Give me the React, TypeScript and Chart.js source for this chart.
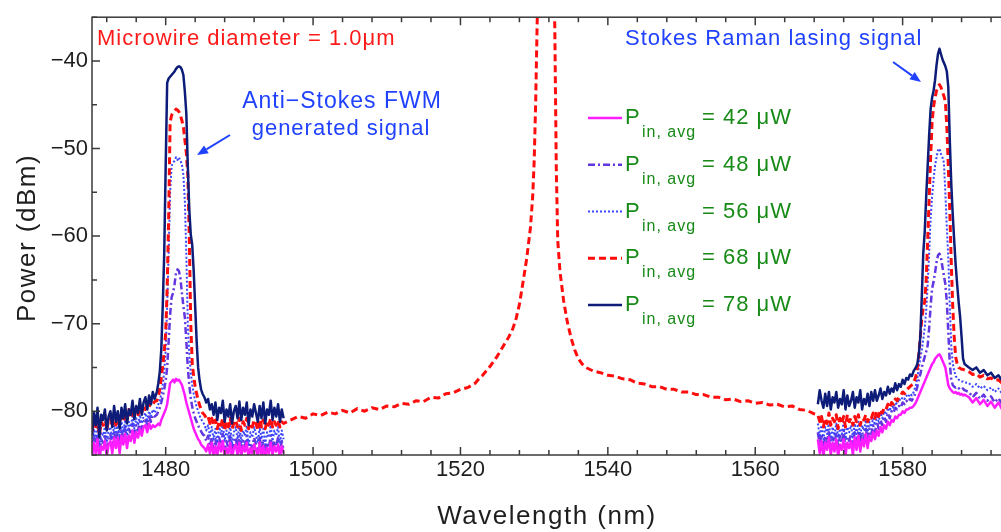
import React, { useEffect, useRef } from "react";
import { Chart, registerables } from "chart.js";

Chart.register(...registerables);

const FONT = '"Liberation Sans", Arial, Helvetica, sans-serif';

// ---------- wavelength grids (nm) ----------
const leftWl = [
  1470, 1470.25, 1470.5, 1470.75, 1471, 1471.25, 1471.5, 1471.75, 1472, 1472.25, 1472.5, 1472.75,
  1473, 1473.25, 1473.5, 1473.75, 1474, 1474.25, 1474.5, 1474.75, 1475, 1475.25, 1475.5, 1475.75,
  1476, 1476.25, 1476.5, 1476.75, 1477, 1477.25, 1477.5, 1477.75, 1478, 1478.25, 1478.5,
  1478.8, 1479, 1479.2, 1479.4, 1479.6, 1479.8, 1480, 1480.2, 1480.4, 1480.6, 1480.8, 1481, 1481.2, 1481.4, 1481.6, 1481.8,
  1482, 1482.2, 1482.4, 1482.6, 1482.8, 1483, 1483.2, 1483.4, 1483.6, 1483.8, 1484, 1484.2, 1484.4, 1484.6, 1484.8, 1485,
  1485.25, 1485.5, 1485.75, 1486, 1486.25, 1486.5, 1486.75, 1487, 1487.25, 1487.5, 1487.75, 1488,
  1488.25, 1488.5, 1488.75, 1489, 1489.25, 1489.5, 1489.75, 1490, 1490.25, 1490.5, 1490.75, 1491,
  1491.25, 1491.5, 1491.75, 1492, 1492.25, 1492.5, 1492.75, 1493, 1493.25, 1493.5, 1493.75, 1494,
  1494.25, 1494.5, 1494.75, 1495, 1495.25, 1495.5, 1495.75, 1496,
];

const midWl = [
  1497, 1498, 1499, 1500, 1501, 1502, 1503, 1504, 1505, 1506,
  1507, 1508, 1509, 1510, 1511, 1512, 1513, 1514, 1515, 1516,
  1517, 1518, 1519, 1520, 1521, 1522, 1522.5, 1523, 1523.5, 1524,
  1524.5, 1525, 1525.5, 1526, 1526.5, 1527, 1527.5, 1528, 1528.5, 1529,
  1529.5, 1529.8, 1530, 1530.2, 1530.4, 1530.6, 1531, 1531.6, 1532.2, 1532.6,
  1532.8, 1533, 1533.2, 1533.5, 1534, 1534.5, 1535, 1535.5, 1536, 1536.5,
  1537, 1538, 1539, 1540, 1541, 1542, 1543, 1544, 1545, 1546,
  1547, 1548, 1549, 1550, 1551, 1552, 1553, 1554, 1555, 1556,
  1557, 1558, 1559, 1560, 1561, 1562, 1563, 1564, 1565, 1566,
  1567, 1568,
];

const rightWl = [
  1568.5, 1568.75, 1569, 1569.25, 1569.5, 1569.75, 1570, 1570.25, 1570.5, 1570.75,
  1571, 1571.25, 1571.5, 1571.75, 1572, 1572.25, 1572.5, 1572.75, 1573, 1573.25,
  1573.5, 1573.75, 1574, 1574.25, 1574.5, 1574.75, 1575, 1575.25, 1575.5, 1575.75,
  1576, 1576.25, 1576.5, 1576.75, 1577, 1577.25, 1577.5, 1577.75, 1578, 1578.25,
  1578.5, 1578.75, 1579, 1579.25, 1579.5, 1579.75, 1580, 1580.25, 1580.5, 1580.75,
  1581, 1581.25, 1581.5,
  1581.8, 1582, 1582.2, 1582.4, 1582.6, 1582.8, 1583, 1583.2, 1583.4, 1583.6, 1583.8, 1584, 1584.2, 1584.4, 1584.6,
  1584.8, 1585, 1585.2, 1585.4, 1585.6, 1585.8, 1586, 1586.2, 1586.4, 1586.6, 1586.8, 1587, 1587.2, 1587.4, 1587.6,
  1587.8, 1588, 1588.2, 1588.4,
  1589, 1589.5, 1590, 1590.5, 1591, 1591.5, 1592, 1592.5, 1593, 1593.5, 1594, 1594.5, 1595, 1595.5, 1596, 1596.5,
  1597, 1597.5, 1598, 1598.5, 1599, 1599.5, 1600,
];

// ---------- power spectra (dBm) ----------
const p78Left = [
  -82.8, -80.2, -81.6, -79.6, -83.0, -80.4, -81.0, -79.8, -82.2, -80.6, -80.0, -81.8, -79.4, -81.2, -80.0, -82.0, -79.6, -80.8,
  -79.2, -81.4, -79.8, -80.4, -78.8, -80.9, -79.4, -80.2, -78.6, -80.4, -79.0, -78.4, -79.8, -78.2, -79.2, -77.8, -78.6,
  -77.8, -76.8, -75.5, -73, -68, -62, -52, -42.5, -42, -41.8, -41.6, -41.4, -41.2, -40.9, -40.7, -40.6,
  -40.7, -41, -41.6, -43.5, -46, -52, -57, -59.8, -61, -64, -68, -72, -75, -76.5, -77.5, -78,
  -78.4, -79.0, -78.6, -79.8, -79.2, -80.4, -79.0, -81.0, -79.6, -80.2, -78.8, -81.2, -79.8, -80.6, -79.2, -81.4,
  -80.0, -79.4, -80.8, -78.9, -81.0, -79.6, -80.4, -79.0, -81.6, -79.8, -80.6, -79.2, -80.2, -81.2, -79.4, -80.8,
  -79.0, -81.4, -79.8, -80.4, -78.8, -81.0, -79.6, -80.6, -79.2, -81.2, -79.8, -80.8,
];
const p68Left = [
  -82.4, -81.0, -82.0, -80.6, -82.8, -81.2, -81.6, -80.4, -82.2, -81.0, -80.8, -81.8, -80.2, -81.6, -80.6, -81.4, -80.0, -81.2,
  -80.4, -81.0, -79.8, -80.8, -80.2, -80.6, -79.6, -80.4, -79.8, -80.2, -79.4, -79.8, -79.2, -79.6, -78.8, -79.2, -78.9,
  -78.8, -78.4, -77.5, -76.2, -74.8, -73.2, -71, -66, -58, -47, -46.2, -45.9, -45.7, -45.5, -45.6, -45.8,
  -46.2, -46.8, -47.5, -49, -50.5, -53, -60, -70, -74.5, -76, -77.2, -78, -78.7, -79.3, -79.8, -80.2,
  -80.4, -80.8, -80.6, -81.4, -80.8, -81.6, -81.0, -82.0, -81.2, -81.6, -80.8, -82.2, -81.2, -81.8, -80.8, -82.0,
  -81.4, -81.0, -81.8, -80.8, -82.2, -81.2, -81.6, -80.8, -82.0, -81.4, -81.8, -81.0, -81.4, -82.2, -80.9, -81.8,
  -81.0, -82.0, -81.2, -81.6, -80.8, -81.8, -81.2, -81.6, -81.0, -81.8, -81.2, -81.4,
];
const p56Left = [
  -83.6, -82.0, -83.0, -81.6, -84.2, -82.4, -82.8, -81.8, -83.6, -82.2, -81.8, -83.2, -81.6, -82.6, -81.4, -83.0, -81.2, -82.4,
  -81.0, -82.6, -81.2, -81.8, -80.6, -82.0, -80.8, -81.6, -80.4, -81.4, -80.6, -80.2, -81.0, -80.0, -80.6, -79.8, -80.2,
  -79.6, -79.2, -78.8, -78, -77, -75.5, -73, -68, -62, -55, -52, -51.6, -51.4, -51.0, -51.3, -51.0,
  -51.4, -51.8, -53, -56, -62, -70, -73.5, -75.5, -77, -78, -78.8, -79.5, -80.0, -80.5, -80.9, -81.2,
  -81.5, -82.2, -81.6, -82.8, -81.8, -83.2, -82.0, -83.6, -81.8, -82.6, -81.4, -83.4, -82.2, -83.0, -81.6, -83.8,
  -82.4, -81.8, -83.2, -81.6, -83.6, -82.2, -82.8, -81.6, -84.0, -82.4, -83.0, -81.8, -82.6, -83.6, -81.8, -83.2,
  -82.0, -83.8, -82.4, -83.0, -81.6, -83.4, -82.2, -82.8, -81.8, -83.6, -82.2, -83.2,
];
const p48Left = [
  -84.6, -82.8, -84.0, -82.6, -85.0, -83.2, -83.6, -82.6, -84.4, -83.0, -82.6, -84.2, -82.4, -83.6, -82.2, -84.0, -82.0, -83.2,
  -81.8, -83.4, -82.0, -82.6, -81.4, -82.8, -81.6, -82.2, -81.2, -82.0, -81.2, -80.8, -81.6, -80.6, -81.2, -80.4, -80.6,
  -80.4, -80.0, -79.6, -79.0, -78.3, -77.5, -76.5, -75, -72, -69, -67, -66.5, -65.5, -64.2, -63.8, -64.0,
  -64.8, -66.5, -68, -69.3, -72, -75, -77, -78.5, -79.5, -80.2, -80.8, -81.2, -81.6, -82.0, -82.3, -82.6,
  -82.8, -83.4, -82.8, -84.0, -83.0, -84.4, -83.2, -84.8, -83.0, -83.8, -82.6, -84.6, -83.4, -84.2, -82.8, -85.0,
  -83.6, -83.0, -84.4, -82.8, -84.8, -83.4, -84.0, -82.8, -85.0, -83.6, -84.2, -83.0, -83.8, -84.8, -83.0, -84.4,
  -83.2, -85.0, -83.6, -84.2, -82.8, -84.6, -83.4, -84.0, -83.0, -84.8, -83.4, -84.4,
];
const p42Left = [
  -85.4, -83.6, -84.8, -83.2, -85.6, -84.0, -84.4, -83.4, -85.2, -83.8, -83.4, -84.8, -83.0, -84.2, -83.0, -84.8, -82.8, -83.8,
  -82.6, -84.2, -82.8, -83.4, -82.2, -83.6, -82.4, -83.0, -82.0, -82.8, -81.8, -81.6, -82.4, -81.4, -82.0, -81.6, -81.8,
  -81.6, -81.4, -81.6, -81.0, -80.6, -80.2, -79.8, -79.2, -78, -76.8, -76.6, -76.4, -76.7, -76.3, -76.5, -76.4,
  -76.7, -77.0, -77.6, -78.2, -79.0, -79.6, -80.2, -80.8, -81.4, -82.0, -82.4, -82.8, -83.2, -83.4, -83.8, -84.0,
  -84.2, -84.6, -83.8, -84.8, -83.6, -85.2, -84.0, -85.0, -83.6, -84.6, -83.4, -85.2, -84.2, -84.8, -83.6, -85.4,
  -84.2, -83.8, -85.0, -83.6, -85.2, -84.0, -84.6, -83.6, -85.4, -84.2, -84.8, -83.8, -84.4, -85.2, -83.6, -85.0,
  -84.0, -85.4, -84.2, -84.8, -83.6, -85.0, -84.0, -84.6, -83.8, -85.2, -84.0, -84.8,
];

const p68Mid = [
  -81.0, -80.6, -80.8, -80.3, -80.5, -80.1, -80.3, -79.9, -80.2, -79.7,
  -80.0, -79.6, -79.8, -79.4, -79.5, -79.1, -79.2, -78.8, -78.9, -78.4,
  -78.5, -78.0, -77.9, -77.5, -77.3, -76.8, -76.3, -75.9, -75.4, -74.9,
  -74.3, -73.7, -73.0, -72.3, -71.6, -70.8, -69.6, -67.8, -65.2, -62.5,
  -59.0, -55.5, -51.5, -45, -36, -28, -22, -20, -23, -30,
  -36, -52, -60.5, -64, -67.4, -69.8, -71.6, -73.0, -74.0, -74.6,
  -75.0, -75.4, -75.6, -75.9, -76.0, -76.3, -76.4, -76.8, -76.9, -77.2,
  -77.2, -77.5, -77.5, -77.8, -77.8, -78.1, -78.1, -78.4, -78.4, -78.7,
  -78.6, -78.9, -78.8, -79.1, -79.0, -79.3, -79.2, -79.5, -79.4, -79.8,
  -79.9, -80.3,
];

const p78Right = [
  -79.2, -77.6, -78.8, -79.6, -78.0, -79.4, -77.8, -79.8, -78.4, -79.0,
  -77.8, -79.6, -78.6, -79.2, -77.6, -79.8, -78.2, -79.4, -78.8, -77.8,
  -79.6, -78.4, -79.0, -77.6, -79.8, -78.6, -79.2, -78.0, -79.4, -77.8,
  -78.8, -77.6, -78.8, -78.2, -77.4, -78.6, -77.8, -78.2, -77.2, -78.0,
  -77.4, -77.8, -76.8, -77.6, -76.9, -77.2, -76.4, -76.9, -76.2, -76.4,
  -75.8, -76.0, -75.4,
  -75.0, -74.6, -73.5, -71.5, -67, -62, -59.5, -55.5, -52, -48.5, -45.5, -44.2, -43.4, -42.2, -40.5,
  -39.2, -38.6, -39.2, -39.8, -40.2, -40.6, -41.2, -43, -49, -54, -57.5, -60.5, -63.3, -65.5, -67.5,
  -69.2, -71.5, -74.0, -74.6,
  -75.0, -75.3, -75.0, -75.6, -75.3, -75.9, -75.6, -76.2, -75.9, -76.5, -76.2, -76.8, -76.4, -77.0, -76.7, -77.2,
  -76.9, -77.5, -77.1, -77.6, -77.3, -77.8, -77.5,
];
const p68Right = [
  -80.4, -81.2, -80.6, -81.8, -80.8, -81.4, -80.2, -81.6, -80.8, -81.2,
  -80.4, -82.0, -80.8, -81.4, -80.6, -81.8, -80.4, -81.2, -80.8, -81.6,
  -80.6, -81.2, -80.4, -81.6, -80.8, -81.0, -80.4, -81.2, -80.6, -80.8,
  -80.2, -80.8, -80.0, -80.6, -79.8, -80.2, -79.6, -79.8, -79.2, -79.6,
  -79.0, -79.2, -78.6, -78.8, -78.4, -78.2, -77.8, -78.0, -77.6, -77.4,
  -77.2, -77.0, -76.8,
  -76, -75, -73.5, -71.5, -69.5, -68.2, -67.5, -65, -60.5, -55.8, -51, -47, -45.2, -44.2, -43.4,
  -42.9, -42.7, -43.0, -43.5, -44.0, -44.6, -47.5, -52, -57, -63, -68, -71.5, -73.8, -74.6, -75.0,
  -75.1, -75.2, -75.2, -75.3,
  -75.5, -75.8, -75.7, -76.1, -75.9, -76.3, -76.2, -76.5, -76.4, -76.8, -76.7, -77.0, -76.9, -77.3, -77.2, -77.5,
  -77.4, -77.8, -77.7, -78.0, -77.9, -78.3, -78.2,
];
const p56Right = [
  -81.4, -82.8, -81.6, -83.2, -81.8, -82.6, -81.2, -83.4, -81.8, -82.8,
  -81.4, -83.0, -82.0, -82.6, -81.2, -83.2, -81.8, -82.4, -81.6, -83.0,
  -81.4, -82.6, -81.2, -82.8, -81.6, -82.2, -81.0, -82.4, -81.2, -81.8,
  -80.8, -81.6, -80.6, -81.2, -80.2, -80.8, -80.0, -80.4, -79.6, -80.0,
  -79.2, -79.6, -79.0, -79.2, -78.6, -78.8, -78.4, -78.6, -78.2, -78.4,
  -78.0, -78.2, -77.8,
  -77.0, -76.2, -75.0, -74.0, -73.0, -71.8, -70.5, -68.5, -65.5, -62, -58, -55.5, -53.5, -52.0, -51.0,
  -50.2, -50.0, -50.6, -51.0, -51.6, -55, -59, -62.5, -68, -72.5, -74.5, -75.4, -76.0, -76.2, -76.4,
  -76.5, -76.6, -76.6, -76.7,
  -76.8, -77.2, -76.9, -77.4, -77.1, -77.6, -77.3, -77.8, -77.4, -78.0, -77.6, -78.1, -77.8, -78.3, -77.9, -78.4,
  -78.1, -78.6, -78.2, -78.7, -78.4, -78.8, -78.6,
];
const p48Right = [
  -82.4, -83.8, -82.6, -84.4, -82.8, -83.6, -82.2, -84.6, -83.0, -83.8,
  -82.4, -84.2, -82.8, -83.6, -82.2, -84.4, -83.0, -83.4, -82.6, -84.0,
  -82.4, -83.6, -82.2, -83.8, -82.4, -83.2, -81.8, -83.4, -82.0, -82.6,
  -81.6, -82.4, -81.2, -82.0, -81.0, -81.6, -80.6, -81.2, -80.2, -80.8,
  -80.0, -80.2, -79.6, -79.8, -79.4, -79.6, -79.0, -79.2, -78.8, -79.0,
  -78.6, -78.8, -78.4,
  -77.8, -77.2, -76.4, -75.8, -75.0, -74.4, -73.8, -73.2, -72.5, -70.5, -68, -66, -65.2, -64.2, -63,
  -62.2, -62.0, -62.4, -63.5, -64.5, -65.5, -67.5, -71, -74.5, -76.4, -77.0, -77.2, -77.3, -77.2, -77.4,
  -77.3, -77.5, -77.4, -77.6,
  -77.8, -78.4, -77.9, -78.6, -78.1, -78.8, -78.3, -79.0, -78.5, -79.2, -78.6, -79.3, -78.8, -79.4, -78.9, -79.6,
  -79.1, -79.7, -79.2, -79.8, -79.4, -80.0, -79.6,
];
const p42Right = [
  -83.2, -84.8, -83.4, -85.2, -83.6, -84.4, -83.0, -85.0, -83.6, -84.6,
  -83.2, -85.2, -83.8, -84.4, -83.2, -85.0, -83.6, -84.2, -83.4, -85.0,
  -83.0, -84.4, -82.8, -84.6, -83.2, -84.0, -82.6, -84.2, -82.8, -83.4,
  -82.4, -83.2, -82.2, -82.8, -81.8, -82.4, -81.6, -82.0, -81.2, -81.6,
  -81.0, -81.2, -80.6, -80.8, -80.4, -80.4, -80.0, -80.2, -79.8, -79.8,
  -79.6, -79.6, -79.4,
  -79.0, -78.6, -78.2, -77.8, -77.4, -77.0, -76.6, -76.2, -75.8, -75.4, -75.0, -74.6, -74.4, -74.0, -73.8,
  -73.6, -73.5, -73.8, -74.2, -74.6, -75.0, -76.0, -77.0, -77.4, -77.6, -77.8, -77.9, -77.8, -78.0, -77.9,
  -78.1, -78.0, -78.2, -78.1,
  -78.4, -79.0, -78.5, -79.2, -78.7, -79.4, -78.9, -79.6, -79.0, -79.8, -79.2, -79.9, -79.4, -80.1, -79.5, -80.2,
  -79.7, -80.4, -79.8, -80.5, -80.0, -80.7, -80.2,
];

const powerLabels = ["42", "48", "56", "68", "78"];
const xTickValues = [1480, 1500, 1520, 1540, 1560, 1580];
const yTickValues = [-80, -70, -60, -50, -40];

// order: lower = drawn on top
const seriesStyle: Record<string, { color: string; width: number; dash: number[]; order: number }> = {
  "42": { color: "#ff1cff", width: 2.5, dash: [], order: 3 },
  "48": { color: "#6236e0", width: 2.5, dash: [7, 3, 2, 3], order: 5 },
  "56": { color: "#3a46ff", width: 2, dash: [2, 2], order: 4 },
  "68": { color: "#ff0d0d", width: 3, dash: [7, 4], order: 2 },
  "78": { color: "#0c1c78", width: 2.5, dash: [], order: 1 },
};

const seg = (xs: number[], ys: number[]) => xs.map((x, i) => ({ x, y: ys[i] }));
const split = (l: number[], r: number[]) => [...seg(leftWl, l), { x: 1532, y: null }, ...seg(rightWl, r)];

const seriesData: Record<string, any[]> = {
  "42": split(p42Left, p42Right),
  "48": split(p48Left, p48Right),
  "56": split(p56Left, p56Right),
  "68": [...seg(leftWl, p68Left), ...seg(midWl, p68Mid), ...seg(rightWl, p68Right)],
  "78": split(p78Left, p78Right),
};

function arrow(ctx: CanvasRenderingContext2D, x0: number, y0: number, x1: number, y1: number) {
  const ang = Math.atan2(y1 - y0, x1 - x0);
  const hl = 11, hw = 4.5;
  const bx = x1 - hl * Math.cos(ang), by = y1 - hl * Math.sin(ang);
  ctx.beginPath();
  ctx.moveTo(x0, y0);
  ctx.lineTo(bx, by);
  ctx.stroke();
  ctx.beginPath();
  ctx.moveTo(x1, y1);
  ctx.lineTo(bx + hw * Math.sin(ang), by - hw * Math.cos(ang));
  ctx.lineTo(bx - hw * Math.sin(ang), by + hw * Math.cos(ang));
  ctx.closePath();
  ctx.fill();
}

const framePlugin = {
  id: "frame",
  afterDatasetsDraw(chart: any) {
    const { ctx, chartArea: a, scales } = chart;
    const xs = scales.x, ys = scales.y;
    ctx.save();
    ctx.setLineDash([]);
    ctx.strokeStyle = "#3a3a3a";
    ctx.lineWidth = 1.5;
    ctx.strokeRect(a.left, a.top, a.right - a.left, a.bottom - a.top);
    ctx.beginPath();
    for (let v = 1472; v <= 1600; v += 4) {
      const px = xs.getPixelForValue(v);
      const len = v % 20 === 0 ? 8 : 5;
      ctx.moveTo(px, a.bottom);
      ctx.lineTo(px, a.bottom - len);
      ctx.moveTo(px, a.top);
      ctx.lineTo(px, a.top + len);
    }
    for (let v = -85; v <= -35; v += 5) {
      const py = ys.getPixelForValue(v);
      const len = v % 10 === 0 ? 8 : 5;
      ctx.moveTo(a.left, py);
      ctx.lineTo(a.left + len, py);
      ctx.moveTo(a.right, py);
      ctx.lineTo(a.right - len, py);
    }
    ctx.stroke();
    ctx.restore();
  },
  afterDraw(chart: any) {
    const { ctx } = chart;
    ctx.save();
    ctx.setLineDash([]);
    ctx.textBaseline = "middle";
    // axis titles
    ctx.fillStyle = "#1e1e1e";
    ctx.font = `26px ${FONT}`;
    (ctx as any).letterSpacing = "1.5px";
    ctx.textAlign = "center";
    ctx.fillText("Wavelength (nm)", 547, 517);
    ctx.save();
    ctx.translate(28, 238);
    ctx.rotate(-Math.PI / 2);
    ctx.fillText("Power (dBm)", 0, 0);
    ctx.restore();

    // annotations
    (ctx as any).letterSpacing = "1px";
    ctx.font = `22px ${FONT}`;
    ctx.textAlign = "left";
    ctx.fillStyle = "#ff1a1a";
    ctx.fillText("Microwire diameter = 1.0μm", 97, 39);
    ctx.fillStyle = "#2042ff";
    ctx.fillText("Stokes Raman lasing signal", 625, 39);
    ctx.textAlign = "center";
    ctx.font = `23px ${FONT}`;
    ctx.fillText("Anti\u2212Stokes FWM", 342, 102);
    ctx.font = `22px ${FONT}`;
    ctx.fillText("generated signal", 341, 129);
    ctx.strokeStyle = "#2042ff";
    ctx.lineWidth = 2;
    arrow(ctx, 230, 135, 197, 155);
    arrow(ctx, 893, 62, 921, 82);

    // legend
    ctx.textAlign = "left";
    powerLabels.forEach((lab, i) => {
      const st = seriesStyle[lab];
      const ly = 118 + i * 46.75;
      ctx.save();
      ctx.strokeStyle = st.color;
      ctx.lineWidth = st.width;
      ctx.setLineDash(st.dash);
      ctx.beginPath();
      ctx.moveTo(588, ly);
      ctx.lineTo(622, ly);
      ctx.stroke();
      ctx.restore();
      ctx.fillStyle = "#178a17";
      ctx.textBaseline = "alphabetic";
      (ctx as any).letterSpacing = "1px";
      ctx.font = `22px ${FONT}`;
      ctx.fillText("P", 625, ly + 6);
      ctx.font = `16px ${FONT}`;
      ctx.fillText("in, avg", 642, ly + 19);
      ctx.font = `22px ${FONT}`;
      ctx.fillText(`= ${lab} μW`, 702, ly + 6);
    });
    (ctx as any).letterSpacing = "0px";
    ctx.restore();
  },
};

export default function App() {
  const ref = useRef<HTMLCanvasElement | null>(null);
  useEffect(() => {
    if (!ref.current) return;
    const datasets = powerLabels.map((lab) => {
      const st = seriesStyle[lab];
      return {
        label: `${lab} μW`,
        data: seriesData[lab],
        borderColor: st.color,
        borderWidth: st.width,
        borderDash: st.dash,
        borderJoinStyle: "round" as const,
        pointRadius: 0,
        fill: false,
        tension: 0,
        spanGaps: false,
        order: st.order,
      };
    });
    const chart = new Chart(ref.current, {
      type: "line",
      data: { datasets },
      options: {
        animation: false,
        responsive: false,
        devicePixelRatio: 1,
        events: [],
        layout: { padding: { left: 0, top: 11, right: 50, bottom: 0 } },
        plugins: { legend: { display: false }, tooltip: { enabled: false } },
        scales: {
          x: {
            type: "linear",
            min: 1470,
            max: 1600,
            position: "bottom",
            afterFit: (s: any) => { s.height = 77; },
            afterBuildTicks: (s: any) => { s.ticks = xTickValues.map((v) => ({ value: v })); },
            grid: { display: false, drawTicks: false },
            border: { display: false },
            ticks: {
              font: { family: FONT, size: 22 },
              color: "#1e1e1e",
              padding: 2,
              maxRotation: 0,
              autoSkip: false,
              callback: (v: any) => String(v),
            },
          },
          y: {
            type: "linear",
            min: -85,
            max: -35,
            afterFit: (s: any) => { s.width = 92; },
            afterBuildTicks: (s: any) => { s.ticks = yTickValues.map((v) => ({ value: v })); },
            grid: { display: false, drawTicks: false },
            border: { display: false },
            ticks: {
              font: { family: FONT, size: 22 },
              color: "#1e1e1e",
              padding: 4,
              callback: (v: any) => "\u2212" + Math.abs(Number(v)),
            },
          },
        },
      },
      plugins: [framePlugin],
    } as any);
    return () => chart.destroy();
  }, []);
  return (
    <div style={{ position: "fixed", left: 0, top: 0, width: 1001, height: 532, overflow: "hidden", background: "#fff" }}>
      <canvas ref={ref} width={1100} height={532} style={{ display: "block" }} />
    </div>
  );
}
